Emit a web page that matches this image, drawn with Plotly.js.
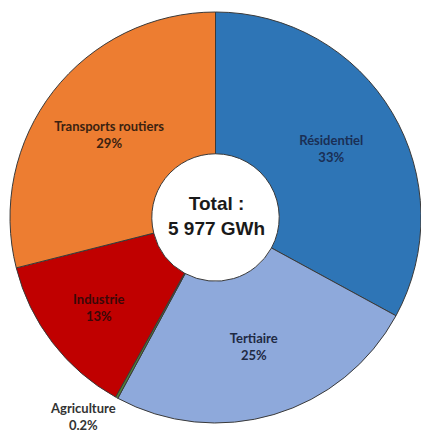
<!DOCTYPE html>
<html>
<head>
<meta charset="utf-8">
<script src="https://cdn.plot.ly/plotly-3.0.1.min.js"></script>
<style>html,body{margin:0;padding:0;background:#fff;overflow:hidden}</style>
</head>
<body>
<div id="chart" style="width:421px;height:432px"></div>
<script>
const sectors = ["Résidentiel", "Tertiaire", "Agriculture", "Industrie", "Transports routiers"];
const shares = [33, 25, 0.2, 13, 29];
const shareLabels = ["33%", "25%", "0.2%", "13%", "29%"];
const sliceColors = ["#2E75B6", "#8EA9DB", "#548235", "#C00000", "#ED7D31"];
const labelColors = ["#1a2f55", "#1e2a44", "#333333", "#3a0808", "#3b2210"];
const totalText = "Total :<br>5 977 GWh";

const texttemplates = sectors.map((s, i) => s === "Agriculture" ? "" : "%{label}<br>%{text}");

const trace = {
  type: "pie",
  labels: sectors,
  values: shares,
  text: shareLabels,
  texttemplate: texttemplates,
  textposition: "inside",
  insidetextorientation: "horizontal",
  sort: false,
  direction: "clockwise",
  rotation: 0,
  hole: 0.31,
  marker: { colors: sliceColors, line: { color: "#3a3a3a", width: 1 } },
  textfont: { family: "Lato, 'Open Sans', sans-serif", size: 13, color: labelColors, weight: "bold" },
  domain: { x: [10 / 421, 1], y: [9 / 432, 420 / 432] },
  showlegend: false,
  hoverinfo: "label+percent"
};

const agriIdx = sectors.indexOf("Agriculture");

const layout = {
  width: 421,
  height: 432,
  margin: { l: 0, r: 0, t: 0, b: 0 },
  paper_bgcolor: "#ffffff",
  plot_bgcolor: "#ffffff",
  showlegend: false,
  annotations: [
    {
      text: "<b>" + totalText + "</b>",
      x: 216 / 421, y: (432 - 216) / 432, xref: "paper", yref: "paper",
      xanchor: "center", yanchor: "middle",
      showarrow: false,
      font: { family: "'Liberation Sans', Arial, sans-serif", size: 19, color: "#1a1a1a" }
    },
    {
      text: "<b>" + sectors[agriIdx] + "<br>" + shareLabels[agriIdx] + "</b>",
      x: 83 / 421, y: (432 - 416) / 432, xref: "paper", yref: "paper",
      xanchor: "center", yanchor: "middle",
      showarrow: false,
      font: { family: "Lato, 'Open Sans', sans-serif", size: 13, color: "#333333" }
    }
  ]
};

Plotly.newPlot("chart", [trace], layout, { displayModeBar: false, staticPlot: true });
</script>
</body>
</html>
